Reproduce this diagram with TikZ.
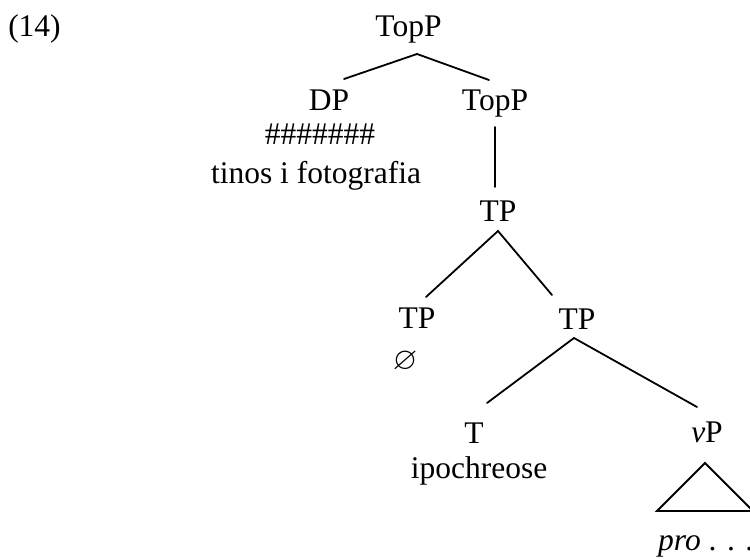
\documentclass[tikz,border=0pt]{standalone}
\usepackage{amssymb}
\usepackage{fontspec}
\setmainfont{Liberation Serif}
\begin{document}
\begin{tikzpicture}[x=1pt,y=-1pt,
    lbl/.style={anchor=base,inner sep=0pt,font=\fontsize{31.5}{36}\selectfont},
    branch/.style={line width=1.8pt,line cap=round,line join=miter}]
\useasboundingbox (0,0) rectangle (750,559);

% example number
\node[lbl] (num) at (34.5,37) {(14)};

% labels
\node[lbl] (topp) at (408.5,37) {TopP};
\node[lbl] (dp) at (329,111) {DP};
\node[lbl] (hash) at (320,145) {\#\#\#\#\#\#\#};
\node[lbl] (tinos) at (316,183) {tinos i fotografia};
\node[lbl] (toppb) at (495,111) {TopP};
\node[lbl] (tp) at (498,222) {TP};
\node[lbl] (tpl) at (417,328) {TP};
\node[lbl] (empty) at (405,369) {$\varnothing$};
\node[lbl] (tpr) at (577,329) {TP};
\node[lbl] (t) at (474,443) {T};
\node[lbl] (ipo) at (479,478) {ipochreose};
\node[lbl] (vp) at (707,442) {\textit{v}P};
\node[lbl,anchor=base west] (pro) at (658,550) {\textit{pro} . . .};

% attachment points of the branches
\coordinate (topp-s) at (417,54);
\coordinate (dp-n) at (344,79);
\coordinate (toppb-n) at (489,80);
\coordinate (toppb-s) at (495,127);
\coordinate (tp-n) at (495,187);
\coordinate (tp-s) at (498,231);
\coordinate (tpl-n) at (426,297);
\coordinate (tpr-n) at (552,295);
\coordinate (tpr-s) at (574,338);
\coordinate (t-n) at (487,403);
\coordinate (vp-n) at (697,407);
\coordinate (tri-top) at (705,463);
\coordinate (tri-l) at (657,511);
\coordinate (tri-r) at (753,511);

% branches
\draw[branch] (dp-n) -- (topp-s) -- (toppb-n);
\draw[branch] (toppb-s) -- (tp-n);
\draw[branch] (tpl-n) -- (tp-s) -- (tpr-n);
\draw[branch] (t-n) -- (tpr-s) -- (vp-n);
\draw[branch] (tri-top) -- (tri-l) -- (tri-r) -- cycle;
\end{tikzpicture}
\end{document}
